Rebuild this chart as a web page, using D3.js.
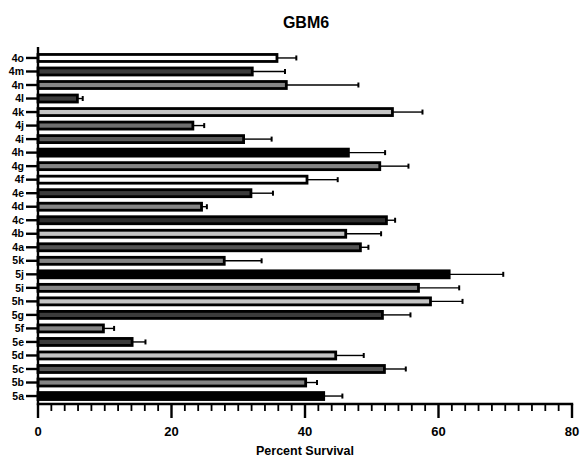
<!DOCTYPE html>
<html>
<head>
<meta charset="utf-8">
<script src="https://cdn.jsdelivr.net/npm/d3@7"></script>
<style>
  body { margin: 0; background: #fff; }
  text { font-family: "Liberation Sans", Arial, sans-serif; font-weight: bold; fill: #000; }
</style>
</head>
<body>
<div id="chart"></div>
<script>
// categories top to bottom
var categories = ["4o","4m","4n","4l","4k","4j","4i","4h","4g","4f","4e","4d","4c",
                  "4b","4a","5k","5j","5i","5h","5g","5f","5e","5d","5c","5b","5a"]
var means = [35.8, 32.1, 37.2, 5.9, 53.1, 23.2, 30.8, 46.5, 51.2, 40.3, 31.9, 24.5, 52.2,
             46.1, 48.3, 27.9, 61.6, 57.0, 58.8, 51.6, 9.8, 14.1, 44.6, 51.9, 40.1, 42.8]
var errTop = [38.7, 37.0, 48.0, 6.7, 57.6, 24.9, 35.0, 52.0, 55.5, 44.9, 35.2, 25.3, 53.5,
              51.4, 49.5, 33.5, 69.7, 63.1, 63.6, 55.8, 11.4, 16.1, 48.8, 55.1, 41.8, 45.6]
var fills = ["#ffffff","#3c3c3c","#858585","#3c3c3c","#c4c4c4","#6e6e6e","#5a5a5a","#000000",
             "#858585","#ffffff","#3c3c3c","#858585","#2e2e2e","#c4c4c4","#555555","#858585",
             "#000000","#858585","#c4c4c4","#3c3c3c","#858585","#3c3c3c","#c4c4c4","#555555",
             "#858585","#000000"]
var xTicks = [0, 20, 40, 60, 80]

var width = 582, height = 458

var svg = d3.select("#chart").append("svg")
    .attr("width", width)
    .attr("height", height)

var x = d3.scaleLinear().domain([0, 80]).range([38, 572])
var y = d3.scaleBand().domain(categories).range([51.2, 402.8]).paddingInner(0.3).paddingOuter(0.15)

var rows = categories.map(function(c, i) {
    return { cat: c, mean: means[i], top: errTop[i], fill: fills[i] }
})

function mid(d) { return y(d) + y.bandwidth() / 2 }

// error bars (drawn first so bar covers the start)
svg.selectAll("line.err")
    .data(rows)
  .enter().append("line")
    .attr("class", "err")
    .attr("x1", function(d) { return x(d.mean) })
    .attr("x2", function(d) { return x(d.top) })
    .attr("y1", function(d) { return mid(d.cat) })
    .attr("y2", function(d) { return mid(d.cat) })
    .style("stroke", "#000")
    .style("stroke-width", 1.4)

svg.selectAll("line.cap")
    .data(rows)
  .enter().append("line")
    .attr("class", "cap")
    .attr("x1", function(d) { return x(d.top) })
    .attr("x2", function(d) { return x(d.top) })
    .attr("y1", function(d) { return mid(d.cat) - 2.5 })
    .attr("y2", function(d) { return mid(d.cat) + 2.5 })
    .style("stroke", "#000")
    .style("stroke-width", 2)

// bars
svg.selectAll("rect.bar")
    .data(rows)
  .enter().append("rect")
    .attr("class", "bar")
    .attr("x", x(0))
    .attr("y", function(d) { return mid(d.cat) - 3.5 })
    .attr("width", function(d) { return x(d.mean) - x(0) })
    .attr("height", 7)
    .style("fill", function(d) { return d.fill })
    .style("stroke", "#000")
    .style("stroke-width", 2.8)

// y axis
svg.append("line")
    .attr("x1", x(0)).attr("x2", x(0))
    .attr("y1", 47).attr("y2", 404.5)
    .style("stroke", "#000").style("stroke-width", 2.4)

svg.selectAll("line.ytick")
    .data(categories)
  .enter().append("line")
    .attr("class", "ytick")
    .attr("x1", 26).attr("x2", x(0))
    .attr("y1", function(d) { return mid(d) })
    .attr("y2", function(d) { return mid(d) })
    .style("stroke", "#000").style("stroke-width", 2.4)

svg.selectAll("text.ylab")
    .data(categories)
  .enter().append("text")
    .attr("class", "ylab")
    .attr("x", 24)
    .attr("y", function(d) { return mid(d) })
    .attr("dy", "0.35em")
    .attr("text-anchor", "end")
    .style("font-size", "10.5px")
    .text(function(d) { return d })

// x axis
var axisY = 404
svg.append("line")
    .attr("x1", x(0) - 1.2).attr("x2", x(80) + 1.2)
    .attr("y1", axisY).attr("y2", axisY)
    .style("stroke", "#000").style("stroke-width", 2.4)

svg.selectAll("line.minor")
    .data(d3.range(0, 81, 2))
  .enter().append("line")
    .attr("class", "minor")
    .attr("x1", function(d) { return x(d) })
    .attr("x2", function(d) { return x(d) })
    .attr("y1", axisY)
    .attr("y2", function(d) { return d % 20 === 0 ? 418 : 411 })
    .style("stroke", "#000")
    .style("stroke-width", function(d) { return d % 20 === 0 ? 2.4 : 1.8 })

svg.selectAll("text.xlab")
    .data(xTicks)
  .enter().append("text")
    .attr("class", "xlab")
    .attr("x", function(d) { return x(d) })
    .attr("y", 436)
    .attr("text-anchor", "middle")
    .style("font-size", "13px")
    .text(function(d) { return d })

svg.append("text")
    .attr("x", 305).attr("y", 455)
    .attr("text-anchor", "middle")
    .style("font-size", "12.5px")
    .text("Percent Survival")

svg.append("text")
    .attr("x", 306).attr("y", 28)
    .attr("text-anchor", "middle")
    .style("font-size", "16px")
    .text("GBM6")
</script>
</body>
</html>
